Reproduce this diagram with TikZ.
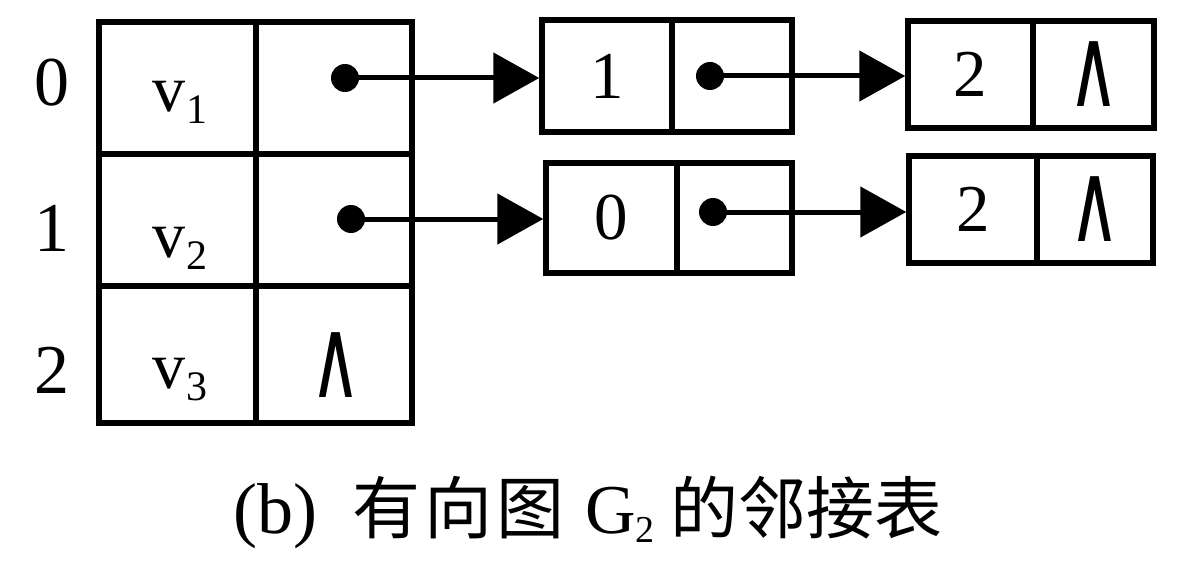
\documentclass[tikz,border=0pt]{standalone}
\usepackage{fontspec}
\usepackage{graphicx}
\setmainfont{Liberation Serif}
\newfontfamily\cjkfont{Noto Sans CJK SC}
\newfontfamily\nilfont{DejaVu Sans}
\usetikzlibrary{arrows.meta}
\newcommand{\fsz}[1]{\fontsize{#1}{#1}\selectfont}
\newcommand{\nilsym}{\scalebox{0.62}[1]{\nilfont\fsz{112}∧}}
\newcommand{\subidx}[1]{\hspace{1pt}\raisebox{-12pt}{\fsz{42}#1}}
\begin{document}
\begin{tikzpicture}[x=1pt,y=-1pt,
  cellbox/.style={draw, line width=5.5pt, inner sep=0pt, font=\fsz{67}},
  txt/.style={inner sep=0pt},
  ptr/.style={circle, fill, inner sep=0pt, minimum size=28pt},
  link/.style={line width=5pt, -{Triangle[length=46pt,width=50pt]}}]
\useasboundingbox (0,0) rectangle (1181,567);
% head table
\node[cellbox, minimum width=157pt, minimum height=132pt] (d0) at (177.5,88) {};
\node[cellbox, minimum width=156pt, minimum height=132pt] (p0) at (334,88) {};
\node[cellbox, minimum width=157pt, minimum height=132pt] (d1) at (177.5,220) {};
\node[cellbox, minimum width=156pt, minimum height=132pt] (p1) at (334,220) {};
\node[cellbox, minimum width=157pt, minimum height=137pt] (d2) at (177.5,354.5) {};
\node[cellbox, minimum width=156pt, minimum height=137pt] (p2) at (334,354.5) {};
% row indices
\node[txt, font=\fsz{70}] (r0) at (52,83) {0};
\node[txt, font=\fsz{70}] (r1) at (52,228) {1};
\node[txt, font=\fsz{70}] (r2) at (52,370) {2};
% vertex names
\node[txt, anchor=base west, font=\fsz{66}] (v1) at (152,112) {v\subidx{1}};
\node[txt, anchor=base west, font=\fsz{66}] (v2) at (152,257) {v\subidx{2}};
\node[txt, anchor=base west, font=\fsz{66}] (v3) at (152,388) {v\subidx{3}};
\node[txt] (n2) at (336,365) {\nilsym};
% pointers in head table
\node[ptr] (s0) at (345,78) {};
\node[ptr] (s1) at (351,219) {};
% list nodes row 0
\node[cellbox, minimum width=130pt, minimum height=112pt] (a0) at (607,76) {1};
\node[cellbox, minimum width=120pt, minimum height=112pt] (a0p) at (732,76) {};
\node[cellbox, minimum width=125pt, minimum height=107pt] (b0) at (970.5,74.5) {2};
\node[cellbox, minimum width=121pt, minimum height=107pt] (b0p) at (1093.5,74.5) {\nilsym};
% list nodes row 1
\node[cellbox, minimum width=131pt, minimum height=110pt] (a1) at (611.5,218) {0};
\node[cellbox, minimum width=115pt, minimum height=110pt] (a1p) at (734.5,218) {};
\node[cellbox, minimum width=128pt, minimum height=107pt] (b1) at (973,209.5) {2};
\node[cellbox, minimum width=116pt, minimum height=107pt] (b1p) at (1095,209.5) {\nilsym};
\node[ptr] (t0) at (710,76) {};
\node[ptr] (t1) at (713,212) {};
% links
\draw[link] (s0.center) -- (s0.center -| a0.west);
\draw[link] (s1.center) -- (s1.center -| a1.west);
\draw[link] (t0.center) -- (t0.center -| b0.west);
\draw[link] (t1.center) -- (t1.center -| b1.west);
% caption
\node[txt, anchor=base west, font=\fsz{72}] (cap) at (233,533) {(b)\hspace{35pt}{\cjkfont\fsz{68}有\hspace{4pt}向\hspace{4pt}图}\hspace{21pt}{\fsz{70}G}\raisebox{-9pt}{\fsz{38}2}\hspace{16pt}{\cjkfont\fsz{68}的邻接表}};
\end{tikzpicture}
\end{document}
